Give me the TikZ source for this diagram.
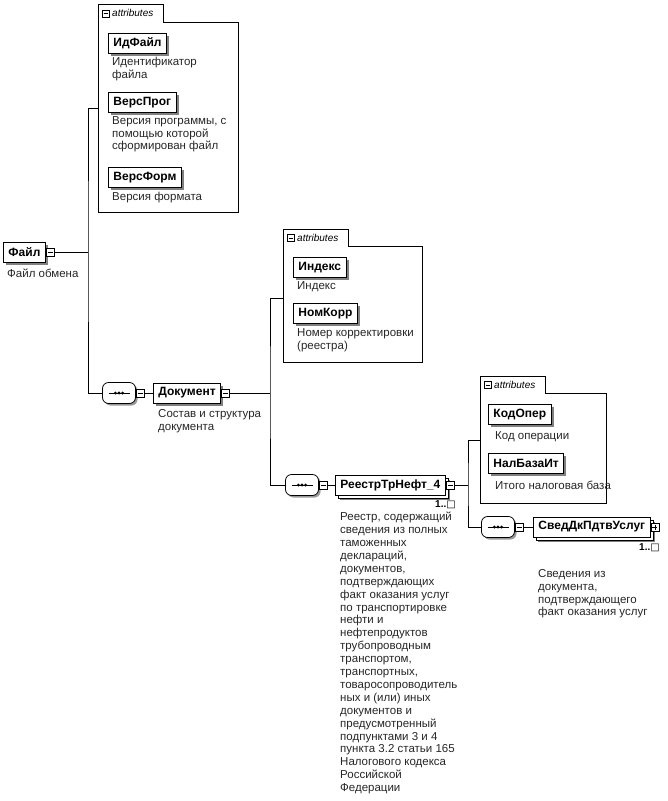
\documentclass[tikz,border=0pt]{standalone}
\usepackage{fontspec}
\setmainfont{Liberation Sans}
\newfontfamily\symfont{DejaVu Sans}
\usetikzlibrary{positioning, shadows}

\tikzset{
    elembase/.style={draw, line width=0.9pt, fill=white, inner xsep=5pt, inner ysep=0pt,
        minimum height=20pt, font=\bfseries\fontsize{12}{13}\selectfont},
    elem/.style={elembase, drop shadow={shadow xshift=2.5pt, shadow yshift=-2.5pt, fill=black!50, opacity=1}},
    elemmany/.style={elembase, drop shadow={shadow xshift=5pt, shadow yshift=-5pt, fill=black!50, opacity=1},
        copy shadow={shadow xshift=3pt, shadow yshift=-3pt}},
    sqminus/.style={draw, fill=white, minimum size=8pt, inner sep=0pt, line width=0.6pt,
        path picture={\draw[line width=0.7pt] ([xshift=1.5pt]path picture bounding box.west) -- ([xshift=-1.5pt]path picture bounding box.east);}},
    sqplus/.style={sqminus,
        path picture={\draw[line width=0.7pt] ([xshift=1.5pt]path picture bounding box.west) -- ([xshift=-1.5pt]path picture bounding box.east)
            ([yshift=-1.5pt]path picture bounding box.north) -- ([yshift=1.5pt]path picture bounding box.south);}},
    seqbox/.style={draw, line width=0.8pt, fill=white, rounded corners=6pt,
        minimum width=33pt, minimum height=21pt, inner sep=0pt,
        drop shadow={shadow xshift=2pt, shadow yshift=-2pt, fill=black!40, opacity=1},
        path picture={
            \draw[line width=1pt] ([xshift=6pt]path picture bounding box.west) -- ([xshift=-6pt]path picture bounding box.east);
            \fill[black] ([xshift=-3.6pt]path picture bounding box.center) circle (1.6pt);
            \fill[black] (path picture bounding box.center) circle (1.6pt);
            \fill[black] ([xshift=3.6pt]path picture bounding box.center) circle (1.6pt);
        }},
    desc/.style={anchor=north west, inner sep=0pt, align=left, text=black!85,
        font=\fontsize{11.5}{12.9}\selectfont},
    tabtext/.style={inner sep=0pt, font=\itshape\fontsize{10}{11}\selectfont},
    occurs/.style={anchor=east, inner sep=0pt, font=\bfseries\fontsize{10}{11}\selectfont},
    attrframe/.style={draw, line width=0.8pt},
    conn/.style={draw, line width=0.9pt}
}

\begin{document}
\begin{tikzpicture}[x=1pt, y=-1pt]
    \useasboundingbox (0,0) rectangle (668,801);

    % root
    \node[elem, anchor=west] (fajl) at (3,252) {Файл};
    \node[sqminus, anchor=west] (fajlsq) at (fajl.east) {};
    \node[desc] (fajld) at (7,269) {Файл обмена};
    \coordinate (fork1) at (88,252);

    % attributes of Файл
    \draw[attrframe] (98,212) -- (98,4) -- (163,4) -- (163,22) -- (238,22) -- (238,212) -- cycle;
    \node[sqminus, minimum size=7pt] (attrAsq) at (105.5,13.5) {};
    \node[tabtext, anchor=west] (attrAt) at (112,13) {attributes};
    \coordinate (attrA) at (98,108);
    \node[elem, anchor=north west] (idfajl) at (108,33) {ИдФайл};
    \node[desc] (idfajld) at (112,57) {Идентификатор\\файла};
    \node[elem, anchor=north west] (versprog) at (108,92) {ВерсПрог};
    \node[desc] (versprogd) at (112,116) {Версия программы, с\\помощью которой\\сформирован файл};
    \node[elem, anchor=north west] (versform) at (108,167) {ВерсФорм};
    \node[desc] (versformd) at (112,192) {Версия формата};

    % Документ
    \node[seqbox] (seqA) at (119,393) {};
    \node[sqminus, anchor=west] (seqAsq) at (seqA.east) {};
    \node[elem, anchor=west] (dok) at (153,393) {Документ};
    \node[sqminus, anchor=west] (doksq) at (dok.east) {};
    \node[desc] (dokd) at (158,409) {Состав и структура\\документа};
    \coordinate (fork2) at (270,393);

    % attributes of Документ
    \draw[attrframe] (283,362) -- (283,229) -- (348,229) -- (348,246) -- (422,246) -- (422,362) -- cycle;
    \node[sqminus, minimum size=7pt] (attrBsq) at (290.5,238) {};
    \node[tabtext, anchor=west] (attrBt) at (297,237.5) {attributes};
    \coordinate (attrB) at (283,298);
    \node[elem, anchor=north west] (indeks) at (293,257) {Индекс};
    \node[desc] (indeksd) at (297,281) {Индекс};
    \node[elem, anchor=north west] (nomkorr) at (293,303) {НомКорр};
    \node[desc] (nomkorrd) at (297,328) {Номер корректировки\\(реестра)};

    % РеестрТрНефт_4
    \node[seqbox] (seqB) at (302,485) {};
    \node[sqminus, anchor=west] (seqBsq) at (seqB.east) {};
    \node[elemmany, anchor=west] (reestr) at (335,485) {РеестрТрНефт\_4};
    \node[sqminus, anchor=west] (reestrsq) at (reestr.east) {};
    \node[occurs] (reestro) at (456,505) {1..{\symfont\mdseries□}};
    \node[desc] (reestrd) at (340,512) {Реестр, содержащий\\сведения из полных\\таможенных\\деклараций,\\документов,\\подтверждающих\\факт оказания услуг\\по транспортировке\\нефти и\\нефтепродуктов\\трубопроводным\\транспортом,\\транспортных,\\товаросопроводитель\\ных и (или) иных\\документов и\\предусмотренный\\подпунктами 3 и 4\\пункта 3.2 статьи 165\\Налогового кодекса\\Российской\\Федерации};
    \coordinate (fork3) at (468,485);

    % attributes of РеестрТрНефт_4
    \draw[attrframe] (480,503) -- (480,376) -- (545,376) -- (545,393) -- (606,393) -- (606,503) -- cycle;
    \node[sqminus, minimum size=7pt] (attrCsq) at (487.5,385) {};
    \node[tabtext, anchor=west] (attrCt) at (494,384.5) {attributes};
    \coordinate (attrC) at (480,440);
    \node[elem, anchor=north west] (kodoper) at (488,404) {КодОпер};
    \node[desc] (kodoperd) at (495,431) {Код операции};
    \node[elem, anchor=north west] (nalbaza) at (488,453) {НалБазаИт};
    \node[desc] (nalbazad) at (495,481) {Итого налоговая база};

    % СведДкПдтвУслуг
    \node[seqbox] (seqC) at (498,527) {};
    \node[sqminus, anchor=west] (seqCsq) at (seqC.east) {};
    \node[elemmany, anchor=west] (sved) at (533,527) {СведДкПдтвУслуг};
    \node[sqplus, anchor=west] (svedsq) at (sved.east) {};
    \node[occurs] (svedo) at (660,548) {1..{\symfont\mdseries□}};
    \node[desc] (svedd) at (538,569) {Сведения из\\документа,\\подтверждающего\\факт оказания услуг};

    % connectors
    \draw[conn] (fajlsq.east) -- (fork1);
    \draw[conn] (attrA) -| (fork1) |- (seqA.west);
    \draw[conn] (seqAsq.east) -- (dok.west);
    \draw[conn] (doksq.east) -- (fork2);
    \draw[conn] (attrB) -| (fork2) |- (seqB.west);
    \draw[conn] (seqBsq.east) -- (reestr.west);
    \draw[conn] (reestrsq.east) -- (fork3);
    \draw[conn] (attrC) -| (fork3) |- (seqC.west);
    \draw[conn] (seqCsq.east) -- (sved.west);
\end{tikzpicture}
\end{document}
